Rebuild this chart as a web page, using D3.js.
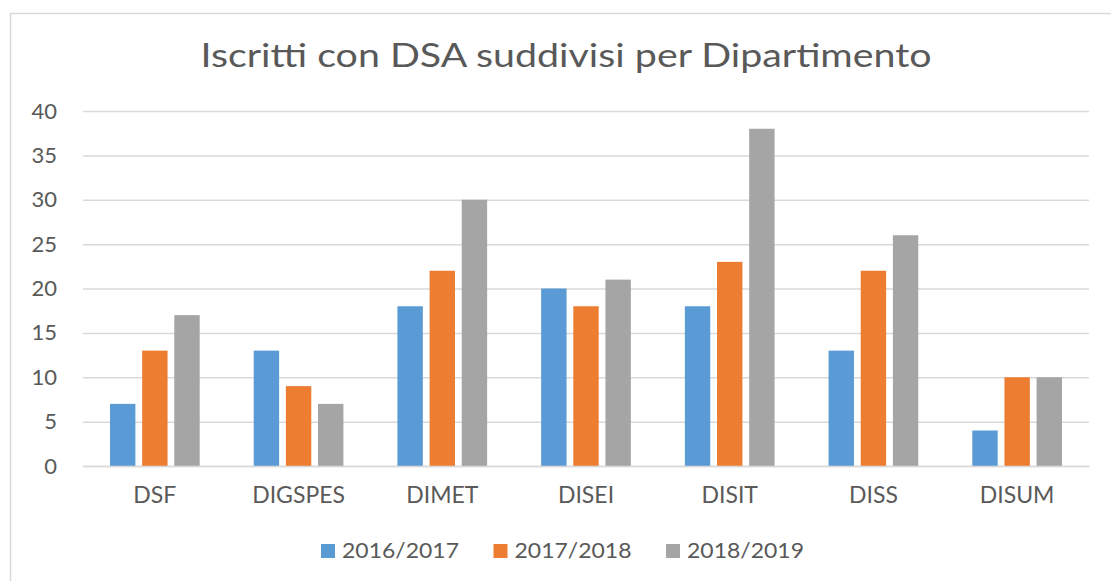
<!DOCTYPE html>
<html><head><meta charset="utf-8">
<script src="https://cdn.jsdelivr.net/npm/d3@7"></script>
<style>html,body{margin:0;padding:0;background:#fff;}svg{display:block;}</style>
</head><body>
<script>
const categories = ["DSF","DIGSPES","DIMET","DISEI","DISIT","DISS","DISUM"];
const seriesNames = ["2016/2017","2017/2018","2018/2019"];
const values2016 = [7,13,18,20,18,13,4];
const values2017 = [13,9,22,18,23,22,10];
const values2018 = [17,7,30,21,38,26,10];
const yTicks = [0,5,10,15,20,25,30,35,40];
const titleText = "Iscritti con DSA suddivisi per Dipartimento";
const colors = ["#5B9BD5","#ED7D31","#A5A5A5"];

(function(){
const seriesValues = [values2016, values2017, values2018];
const W = 1111, H = 581;
const svg = d3.select("body").append("svg").attr("width", W).attr("height", H);
const font = "Lato, 'Open Sans', sans-serif";
const textColor = "#595959";

svg.append("rect").attr("x",10.5).attr("y",13.5).attr("width",W+20).attr("height",H+20)
  .attr("fill","none").attr("stroke","#d9d9d9").attr("stroke-width",1.5);

const pLeft = 83, pRight = 1089, pTop = 111, pBottom = 466;
const x0 = d3.scaleBand().domain(categories).range([pLeft,pRight]).paddingInner(0).paddingOuter(0);
const x1 = d3.scaleBand().domain(seriesNames).range([0,x0.bandwidth()]).paddingInner(0.21).paddingOuter(0.84);
const y = d3.scaleLinear().domain([0,40]).range([pBottom,pTop]);

const yAxis = d3.axisLeft(y).tickValues(yTicks).tickSize(-(pRight-pLeft)).tickPadding(26);
const gy = svg.append("g").attr("transform",`translate(${pLeft},0)`).call(yAxis);
gy.select(".domain").remove();
gy.selectAll(".tick line").attr("stroke","#d9d9d9").attr("stroke-width",1.5);
gy.selectAll(".tick text").attr("font-family",font).attr("font-size",22).attr("fill",textColor);

const groups = svg.append("g").selectAll("g").data(categories).join("g")
  .attr("transform",d=>`translate(${x0(d)},0)`);
groups.selectAll("rect").data((c,i)=>seriesNames.map((s,j)=>({s, v: seriesValues[j][i], j})))
  .join("rect")
  .attr("x",d=>x1(d.s)).attr("width",x1.bandwidth())
  .attr("y",d=>y(d.v)).attr("height",d=>y(0)-y(d.v))
  .attr("fill",d=>colors[d.j]);

const xAxis = d3.axisBottom(x0).tickSize(0).tickPadding(21);
const gx = svg.append("g").attr("transform",`translate(0,${pBottom})`).call(xAxis);
gx.select(".domain").attr("stroke","#d9d9d9").attr("stroke-width",1.5);
gx.selectAll(".tick text").attr("font-family",font).attr("font-size",23).attr("fill",textColor);

svg.append("text").attr("x",(200+932)/2).attr("y",67).attr("text-anchor","middle")
  .attr("font-family",font).attr("font-size",33).attr("fill",textColor)
  .attr("textLength",731).attr("lengthAdjust","spacingAndGlyphs")
  .text(titleText);

const legend = svg.append("g").attr("transform","translate(321,0)");
const li = legend.selectAll("g").data(seriesNames).join("g")
  .attr("transform",(d,i)=>`translate(${i*172.5},0)`);
li.append("rect").attr("x",0).attr("y",544).attr("width",14).attr("height",14).attr("fill",(d,i)=>colors[i]);
li.append("text").attr("x",21).attr("y",558).attr("font-family",font).attr("font-size",22)
  .attr("fill",textColor).attr("textLength",117).attr("lengthAdjust","spacingAndGlyphs").text(d=>d);
})();
</script>
</body></html>
